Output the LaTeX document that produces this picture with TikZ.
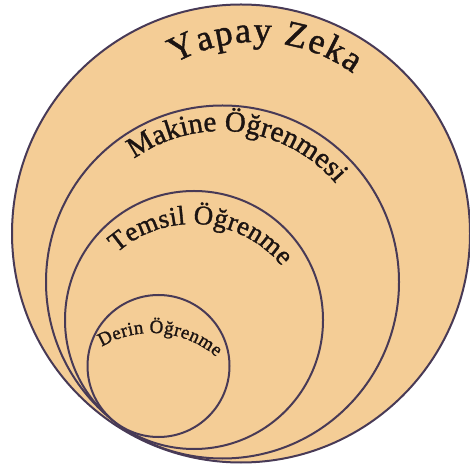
\documentclass[tikz,border=0pt]{standalone}
\usepackage{fontspec}
\setmainfont{Liberation Serif}
\newfontfamily\arcfont{Liberation Serif}[FakeBold=1.2]
\usetikzlibrary{decorations.text}
\definecolor{peach}{RGB}{244,205,150}
\definecolor{rim}{RGB}{72,58,86}
\definecolor{ink}{RGB}{28,20,18}
\tikzset{ring/.style={fill=peach, draw=rim, line width=2pt}}
\begin{document}
\begin{tikzpicture}[x=1pt,y=1pt]
\useasboundingbox[fill=white] (0,0) rectangle (470,468);
% circle centres
\coordinate (cAI) at (241,234.5);
\coordinate (cML) at (222.5,186);
\coordinate (cRL) at (194,148);
\coordinate (cDL) at (158.5,102);
% text arc centres
\coordinate (tAI) at (256,261);
\coordinate (tML) at (221.5,186.5);
\coordinate (tRL) at (193,129.6);
\coordinate (tDL) at (152,36.9);
\draw[ring] (cAI) circle[radius=229];
\draw[ring] (cML) circle[radius=176.5];
\draw[ring] (cRL) circle[radius=129];
\draw[ring] (cDL) circle[radius=71];
\path[decorate, decoration={text along path, text align={fit to path},
  text={|\arcfont\fontsize{36}{36}\selectfont\color{ink}|Yapay Zeka}}]
  ([shift={(119.5:165)}]tAI) arc[start angle=119.5, end angle=54, radius=165];
\path[decorate, decoration={text along path, text align={fit to path},
  text={|\arcfont\fontsize{29}{29}\selectfont\color{ink}|Makine Öğrenmesi}}]
  ([shift={(125.5:150.5)}]tML) arc[start angle=125.5, end angle=40.6, radius=150.5];
\path[decorate, decoration={text along path, text align={fit to path},
  text={|\arcfont\fontsize{27}{27}\selectfont\color{ink}|Temsil Öğrenme}}]
  ([shift={(131.7:114.4)}]tRL) arc[start angle=131.7, end angle=39, radius=114.4];
\path[decorate, decoration={text along path, text align={fit to path},
  text={|\arcfont\fontsize{19}{19}\selectfont\color{ink}|Derin Öğrenme}}]
  ([shift={(120.8:98.1)}]tDL) arc[start angle=120.8, end angle=49, radius=98.1];
\end{tikzpicture}
\end{document}
